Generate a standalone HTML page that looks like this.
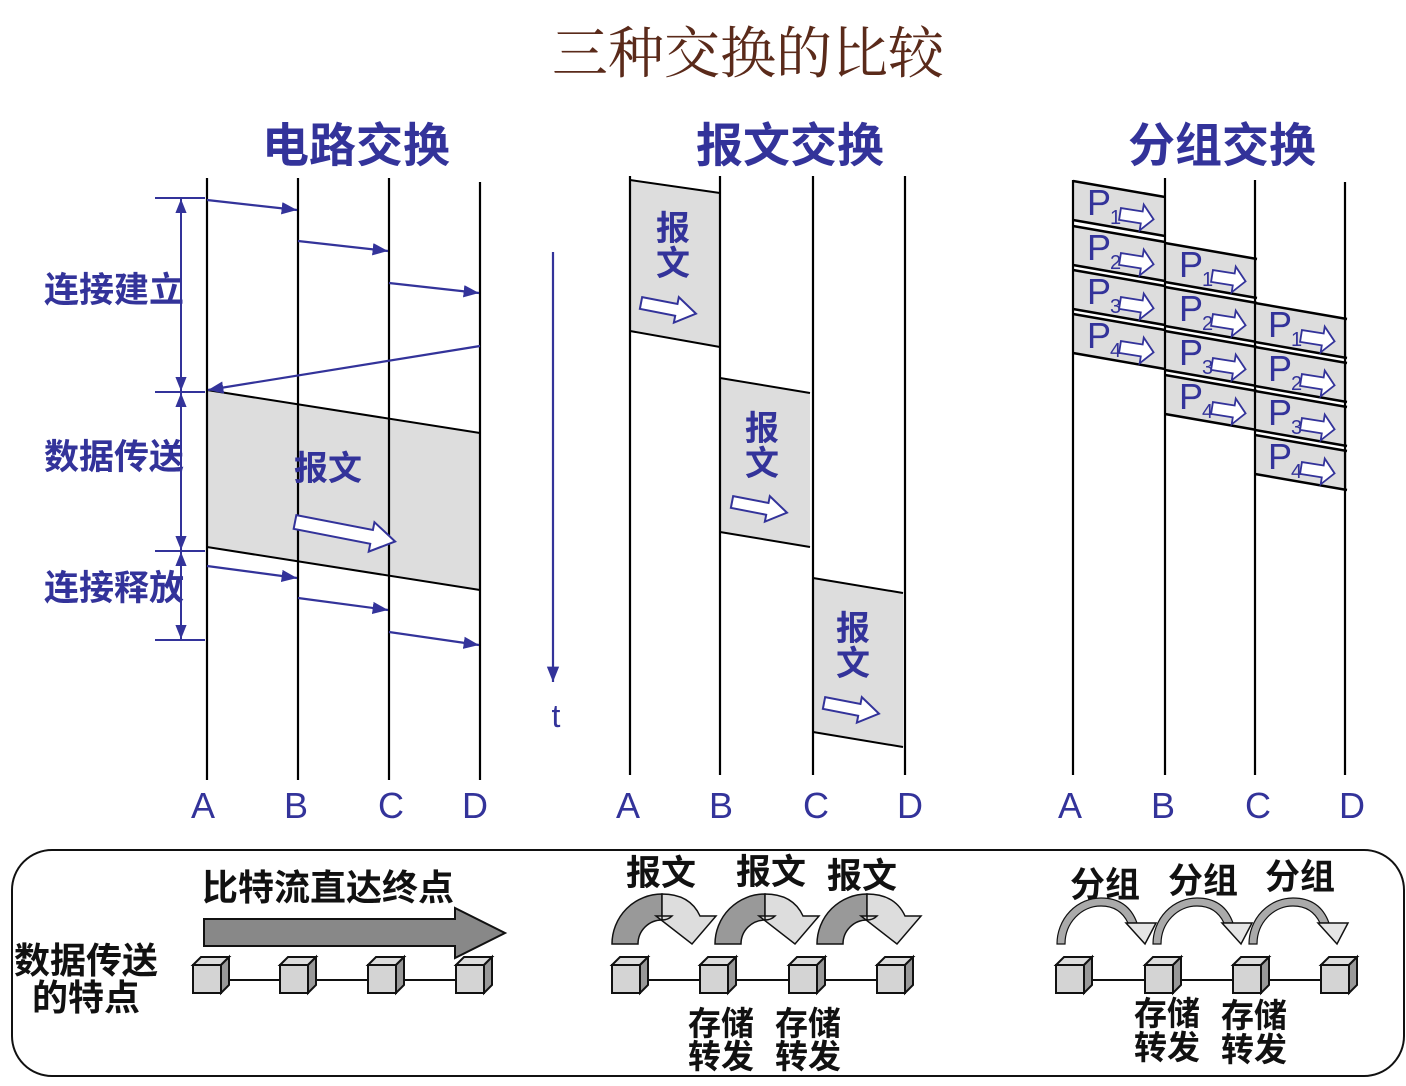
<!DOCTYPE html>
<html><head><meta charset="utf-8"><style>
html,body{margin:0;padding:0;background:#fff}
svg{display:block}
.b{font-family:"Liberation Sans","Noto Sans CJK SC",sans-serif;font-weight:bold;fill:#33339a}
.l{font-family:"Liberation Sans","Noto Sans CJK SC",sans-serif;fill:#33339a}
.k{font-family:"Liberation Sans","Noto Sans CJK SC",sans-serif;font-weight:bold;fill:#111}
</style></head><body>
<svg width="1406" height="1086" viewBox="0 0 1406 1086" xmlns="http://www.w3.org/2000/svg">
<defs>
<marker id="ah" viewBox="0 0 10 10" refX="10" refY="5" markerWidth="7" markerHeight="7" orient="auto"><path d="M0,1 L10,5 L0,9 Z" fill="#33339a"/></marker>
<g id="harrow"><path d="M0,-6 L36,-6 L36,-13 L56,0 L36,13 L36,6 L0,6 Z" fill="#fff" stroke="#33339a" stroke-width="2"/></g>
<g id="parrow"><path d="M0,-6 L22,-6 L22,-13 L34,0 L22,13 L22,6 L0,6 Z" fill="#fff" stroke="#33339a" stroke-width="1.8"/></g>
<g id="cube"><path d="M0,8 L8,0 L36,0 L28,8 Z" fill="#ddd" stroke="#111" stroke-width="2"/><path d="M28,8 L36,0 L36,28 L28,36 Z" fill="#999" stroke="#111" stroke-width="2"/><rect x="0" y="8" width="28" height="28" fill="#d4d4d4" stroke="#111" stroke-width="2"/></g>
<g id="marc"><path d="M612,944 A50,50 0 0 1 662,894 L662,920 A24,24 0 0 0 638,944 Z" fill="#999" stroke="#111" stroke-width="1.5"/><path d="M662,894 Q690,894 700,916 L716,916 L692,944 L656,916 L672,916 Q668,920 662,920 Z" fill="#ddd" stroke="#111" stroke-width="1.5"/></g>
<g id="parc"><path d="M1057,944 A44,46 0 0 1 1101,898 Q1128,898 1137,923 L1128,923 Q1120,906 1101,906 A36,38 0 0 0 1065,944 Z" fill="#aaa" stroke="#111" stroke-width="1.2"/><path d="M1126,923 L1156,923 L1145,944 Z" fill="#e5e5e5" stroke="#111" stroke-width="1.5"/></g>
<g id="pk"><path d="M0,0 L92,16 L92,55 L0,39 Z" fill="#ddd"/><path d="M0,0 L92,16 M0,39 L92,55" stroke="#000" stroke-width="2.5"/></g>
</defs>

<text x="748" y="73" font-family="Liberation Serif,'Noto Serif CJK SC',serif" font-size="56" fill="#5a2a1a" text-anchor="middle">三种交换的比较</text>
<text x="356" y="162" class="b" font-size="47" text-anchor="middle">电路交换</text>
<text x="790" y="162" class="b" font-size="47" text-anchor="middle">报文交换</text>
<text x="1222" y="162" class="b" font-size="47" text-anchor="middle">分组交换</text>

<!-- circuit -->
<path d="M207,390 L480,433 L480,590 L207,547 Z" fill="#ddd"/>
<path d="M207,390 L480,433 M207,547 L480,590" stroke="#000" stroke-width="2"/>
<g stroke="#000" stroke-width="2.2"><line x1="207" y1="178" x2="207" y2="780"/><line x1="298" y1="178" x2="298" y2="780"/><line x1="389" y1="178" x2="389" y2="780"/><line x1="480" y1="182" x2="480" y2="780"/></g>
<g stroke="#33339a" stroke-width="2.2" marker-end="url(#ah)">
<line x1="207" y1="200" x2="297" y2="210"/><line x1="298" y1="241" x2="388" y2="251"/><line x1="389" y1="283" x2="479" y2="293"/>
<line x1="480" y1="346" x2="208" y2="390"/>
<line x1="207" y1="566" x2="297" y2="578"/><line x1="298" y1="598" x2="388" y2="610"/><line x1="389" y1="632" x2="479" y2="645"/>
</g>
<text x="328" y="480" class="b" font-size="34" text-anchor="middle">报文</text>
<path transform="translate(295,522) rotate(11)" d="M0,-7 L78,-7 L78,-15 L102,0 L78,15 L78,7 L0,7 Z" fill="#fff" stroke="#33339a" stroke-width="2"/>
<g stroke="#33339a" stroke-width="2"><line x1="155" y1="198" x2="205" y2="198"/><line x1="155" y1="392" x2="205" y2="392"/><line x1="155" y1="551" x2="205" y2="551"/><line x1="155" y1="640" x2="205" y2="640"/></g>
<g stroke="#33339a" stroke-width="2" marker-end="url(#ah)">
<line x1="181" y1="295" x2="181" y2="199"/><line x1="181" y1="295" x2="181" y2="391"/>
<line x1="181" y1="470" x2="181" y2="393"/><line x1="181" y1="470" x2="181" y2="550"/>
<line x1="181" y1="596" x2="181" y2="552"/><line x1="181" y1="596" x2="181" y2="639"/>
</g>
<text x="44" y="302" class="b" font-size="35">连接建立</text>
<text x="44" y="469" class="b" font-size="35">数据传送</text>
<text x="44" y="600" class="b" font-size="35">连接释放</text>
<line x1="553" y1="252" x2="553" y2="682" stroke="#33339a" stroke-width="2.2" marker-end="url(#ah)"/>
<text x="556" y="727" class="l" font-size="32" text-anchor="middle">t</text>
<g class="l" font-size="36" text-anchor="middle"><text x="203" y="818">A</text><text x="296" y="818">B</text><text x="391" y="818">C</text><text x="475" y="818">D</text>
<text x="628" y="818">A</text><text x="721" y="818">B</text><text x="816" y="818">C</text><text x="910" y="818">D</text>
<text x="1070" y="818">A</text><text x="1163" y="818">B</text><text x="1258" y="818">C</text><text x="1352" y="818">D</text></g>

<!-- message -->
<g fill="#ddd"><path d="M630,180 L720,193 L720,347 L630,331 Z"/><path d="M720,378 L810,393 L810,547 L720,532 Z"/><path d="M813,578 L903,593 L903,747 L813,732 Z"/></g>
<g stroke="#000" stroke-width="2"><path d="M630,180 L720,193 M630,331 L720,347 M720,378 L810,393 M720,532 L810,547 M813,578 L903,593 M813,732 L903,747" fill="none"/></g>
<g stroke="#000" stroke-width="2.2"><line x1="630" y1="176" x2="630" y2="775"/><line x1="720" y1="176" x2="720" y2="775"/><line x1="813" y1="176" x2="813" y2="775"/><line x1="905" y1="176" x2="905" y2="775"/></g>
<g class="b" font-size="34" text-anchor="middle"><text x="673" y="240">报</text><text x="673" y="275">文</text><text x="762" y="440">报</text><text x="762" y="475">文</text><text x="853" y="640">报</text><text x="853" y="675">文</text></g>
<use href="#harrow" transform="translate(641,303) rotate(11)"/>
<use href="#harrow" transform="translate(732,502) rotate(11)"/>
<use href="#harrow" transform="translate(824,703) rotate(11)"/>

<!-- packet -->
<g>
<use href="#pk" x="1073" y="181"/><use href="#pk" x="1073" y="226"/><use href="#pk" x="1073" y="270"/><use href="#pk" x="1073" y="314"/>
<use href="#pk" x="1165" y="243"/><use href="#pk" x="1165" y="287"/><use href="#pk" x="1165" y="331"/><use href="#pk" x="1165" y="375"/>
<use href="#pk" x="1255" y="303"/><use href="#pk" x="1255" y="347"/><use href="#pk" x="1255" y="391"/><use href="#pk" x="1255" y="435"/>
</g>
<g stroke="#000" stroke-width="2.2"><line x1="1073" y1="180" x2="1073" y2="775"/><line x1="1165" y1="178" x2="1165" y2="775"/><line x1="1255" y1="180" x2="1255" y2="775"/><line x1="1345" y1="182" x2="1345" y2="775"/></g>
<g class="l" font-size="36">
<text x="1087" y="215">P</text><text x="1087" y="260">P</text><text x="1087" y="304">P</text><text x="1087" y="348">P</text>
<text x="1179" y="277">P</text><text x="1179" y="321">P</text><text x="1179" y="365">P</text><text x="1179" y="409">P</text>
<text x="1268" y="337">P</text><text x="1268" y="381">P</text><text x="1268" y="425">P</text><text x="1268" y="469">P</text>
</g>
<g class="l" font-size="20">
<text x="1110" y="224">1</text><text x="1110" y="269">2</text><text x="1110" y="313">3</text><text x="1110" y="357">4</text>
<text x="1202" y="286">1</text><text x="1202" y="330">2</text><text x="1202" y="374">3</text><text x="1202" y="418">4</text>
<text x="1291" y="346">1</text><text x="1291" y="390">2</text><text x="1291" y="434">3</text><text x="1291" y="478">4</text>
</g>
<g>
<use href="#parrow" transform="translate(1120,214) rotate(9)"/><use href="#parrow" transform="translate(1120,259) rotate(9)"/><use href="#parrow" transform="translate(1120,303) rotate(9)"/><use href="#parrow" transform="translate(1120,347) rotate(9)"/>
<use href="#parrow" transform="translate(1212,276) rotate(9)"/><use href="#parrow" transform="translate(1212,320) rotate(9)"/><use href="#parrow" transform="translate(1212,364) rotate(9)"/><use href="#parrow" transform="translate(1212,408) rotate(9)"/>
<use href="#parrow" transform="translate(1301,336) rotate(9)"/><use href="#parrow" transform="translate(1301,380) rotate(9)"/><use href="#parrow" transform="translate(1301,424) rotate(9)"/><use href="#parrow" transform="translate(1301,468) rotate(9)"/>
</g>

<!-- bottom box -->
<rect x="12" y="850" width="1392" height="226" rx="40" fill="none" stroke="#111" stroke-width="2"/>
<text x="86" y="973" class="k" font-size="36" text-anchor="middle">数据传送</text>
<text x="86" y="1010" class="k" font-size="36" text-anchor="middle">的特点</text>
<text x="328" y="900" class="k" font-size="36" text-anchor="middle">比特流直达终点</text>
<path d="M204,919 L455,919 L455,908 L505,933 L455,958 L455,946 L204,946 Z" fill="#888" stroke="#111" stroke-width="2"/>
<g stroke="#111" stroke-width="2"><line x1="215" y1="980" x2="480" y2="980"/><line x1="635" y1="980" x2="900" y2="980"/><line x1="1080" y1="980" x2="1345" y2="980"/></g>
<use href="#cube" x="193" y="957"/><use href="#cube" x="280" y="957"/><use href="#cube" x="368" y="957"/><use href="#cube" x="456" y="957"/>
<use href="#cube" x="612" y="957"/><use href="#cube" x="700" y="957"/><use href="#cube" x="789" y="957"/><use href="#cube" x="877" y="957"/>
<use href="#cube" x="1056" y="957"/><use href="#cube" x="1145" y="957"/><use href="#cube" x="1233" y="957"/><use href="#cube" x="1321" y="957"/>
<g class="k" font-size="35"><text x="626" y="885">报文</text><text x="736" y="884">报文</text><text x="827" y="888">报文</text></g>
<use href="#marc"/><use href="#marc" x="103"/><use href="#marc" x="205"/>
<g class="k" font-size="33" text-anchor="middle"><text x="721" y="1035">存储</text><text x="721" y="1068">转发</text><text x="808" y="1035">存储</text><text x="808" y="1068">转发</text>
<text x="1167" y="1025">存储</text><text x="1167" y="1059">转发</text><text x="1254" y="1027">存储</text><text x="1254" y="1061">转发</text></g>
<g class="k" font-size="35"><text x="1070" y="897">分组</text><text x="1168" y="893">分组</text><text x="1265" y="889">分组</text></g>
<use href="#parc"/><use href="#parc" x="96"/><use href="#parc" x="192"/>
</svg>
</body></html>
